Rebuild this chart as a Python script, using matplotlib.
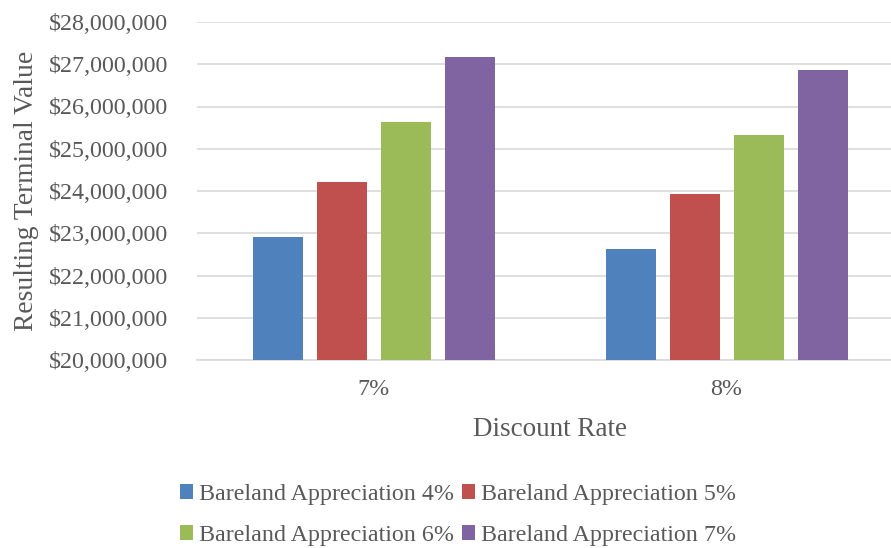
import matplotlib
matplotlib.use("Agg")
import matplotlib.pyplot as plt
import numpy as np
from matplotlib.ticker import FuncFormatter

categories = ["7%", "8%"]
series_names = ["Bareland Appreciation 4%", "Bareland Appreciation 5%",
                "Bareland Appreciation 6%", "Bareland Appreciation 7%"]
app_4 = [22920000, 22620000]
app_5 = [24220000, 23920000]
app_6 = [25640000, 25330000]
app_7 = [27160000, 26860000]
colors = ["#4F81BD", "#C0504D", "#9BBB59", "#8064A2"]

plt.rcParams['font.family'] = ['Liberation Serif', 'DejaVu Serif']
txt = "#595959"

fig = plt.figure(figsize=(8.91, 5.48), dpi=100)
catw = 353
ax = fig.add_axes([197/891, 1-360/548, 2*catw/891, 338/548])

x = np.arange(len(categories))
w = 50/catw
step = 64/catw
handles = []
for i, (vals, c, name) in enumerate(zip([app_4, app_5, app_6, app_7], colors, series_names)):
    b = ax.bar(x + (i-1.5)*step, vals, width=w, color=c, label=name, zorder=3)
    handles.append(b)

ax.set_xlim(-0.5, 1.5)
ax.set_ylim(20000000, 28000000)
ax.set_yticks(np.arange(20000000, 28000001, 1000000))
ax.yaxis.set_major_formatter(FuncFormatter(lambda v, p: "${:,.0f}".format(v)))
ax.set_xticks(x)
ax.set_xticklabels(categories)
ax.grid(axis='y', color="#D9D9D9", linewidth=1.2, zorder=0)
for s in ['top', 'right', 'left']:
    ax.spines[s].set_visible(False)
ax.spines['bottom'].set_color("#D9D9D9")
ax.spines['bottom'].set_linewidth(1.2)
ax.tick_params(axis='both', length=0, labelsize=17.3, labelcolor=txt)
ax.tick_params(axis='y', pad=21)
ax.tick_params(axis='x', pad=14)
ax.set_ylabel("Resulting Terminal Value", fontsize=19.8, color=txt, labelpad=7)
ax.set_xlabel("Discount Rate", fontsize=19.5, color=txt, labelpad=12)

order = [0, 2, 1, 3]
leg = fig.legend([handles[i] for i in order], [series_names[i] for i in order],
                 loc='center', bbox_to_anchor=(458/891, 1-515/548), ncol=2,
                 frameon=False, fontsize=17.3, handlelength=0.55, handleheight=0.55,
                 handletextpad=0.25, columnspacing=0.3, labelspacing=0.85)
for t in leg.get_texts():
    t.set_color(txt)

fig.savefig("out.png", dpi=100)
